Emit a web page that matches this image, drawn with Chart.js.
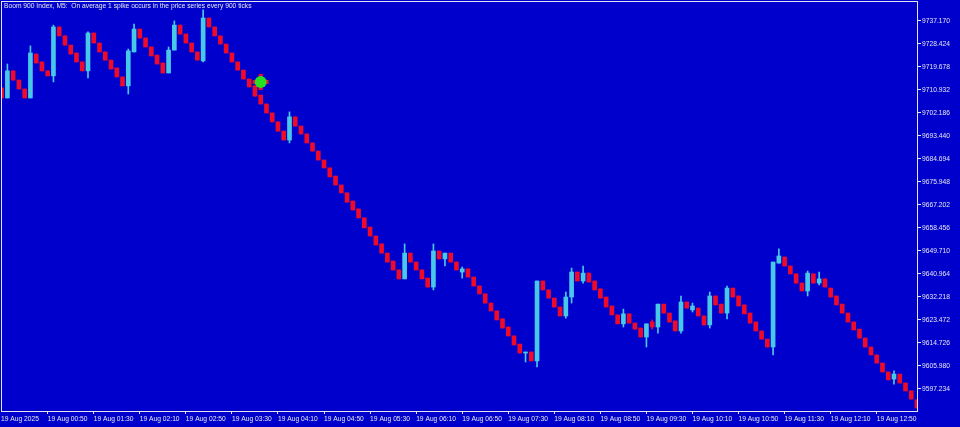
<!DOCTYPE html>
<html>
<head>
<meta charset="utf-8">
<script src="https://cdn.jsdelivr.net/npm/chart.js@4.4.1/dist/chart.umd.min.js"></script>
<style>
  html, body { margin: 0; padding: 0; background: #0000cd; }
  #wrap { width: 960px; height: 427px; }
</style>
</head>
<body>
<div id="wrap"><canvas id="chart" width="960" height="427"></canvas></div>
<script>
const titleText = 'Boom 900 Index, M5:  On average 1 spike occurs in the price series every 900 ticks';

// bar number of the first candle in the arrays (bar 0 = 19 Aug 00:00, M5)
const firstBar = 2;

const opens = [
  9711.7, 9707.9, 9718.2, 9714.7, 9711.3, 9707.9, 9724.6, 9721.6, 9718.2, 9716.3,
  9734.9, 9731.5, 9728.0, 9725.0, 9721.6, 9718.2, 9732.6, 9728.8, 9725.4, 9722.3,
  9719.3, 9715.9, 9712.5, 9725.4, 9734.1, 9730.7, 9727.3, 9724.2, 9721.2, 9717.4,
  9726.1, 9735.6, 9732.2, 9728.8, 9725.4, 9722.0, 9738.3, 9734.9, 9731.5, 9728.4,
  9725.0, 9721.6, 9718.5, 9715.1, 9712.5, 9709.0, 9705.6, 9702.2, 9698.8, 9695.3,
  9691.9, 9700.7, 9697.2, 9694.2, 9690.8, 9687.7, 9684.3, 9681.3, 9678.2, 9674.8,
  9671.8, 9668.7, 9665.7, 9662.3, 9658.8, 9655.4, 9652.4, 9648.9, 9645.9, 9642.5,
  9639.1, 9648.9, 9645.5, 9642.5, 9639.4, 9636.0, 9649.7, 9646.7, 9648.9, 9645.5,
  9641.7, 9642.9, 9639.8, 9636.4, 9633.4, 9629.9, 9626.9, 9623.9, 9620.8, 9617.4,
  9614.3, 9610.9, 9611.3, 9607.9, 9638.3, 9634.9, 9631.8, 9628.4, 9625.0, 9632.2,
  9641.7, 9638.3, 9641.3, 9638.3, 9635.3, 9632.2, 9628.8, 9625.4, 9622.0, 9625.8,
  9622.3, 9620.4, 9617.0, 9622.7, 9620.8, 9629.5, 9626.1, 9623.1, 9619.3, 9630.3,
  9627.3, 9628.0, 9625.0, 9621.6, 9632.6, 9629.5, 9626.1, 9635.6, 9632.6, 9629.2,
  9626.1, 9622.7, 9619.3, 9616.2, 9613.2, 9645.1, 9647.4, 9644.0, 9641.0, 9637.5,
  9634.5, 9641.0, 9637.5, 9639.1, 9635.6, 9632.6, 9629.5, 9626.1, 9622.7, 9620.0,
  9616.6, 9613.2, 9610.2, 9607.1, 9603.7, 9601.0, 9602.9, 9599.5, 9596.5, 9593.1
];
const highs = [
  9711.7, 9720.8, 9718.2, 9714.7, 9711.3, 9727.7, 9724.6, 9721.6, 9718.2, 9735.6,
  9734.9, 9731.5, 9728.0, 9725.0, 9721.6, 9733.0, 9732.6, 9728.8, 9725.4, 9722.3,
  9719.3, 9715.9, 9726.5, 9736.0, 9734.1, 9730.7, 9727.3, 9724.2, 9721.2, 9727.3,
  9737.2, 9735.6, 9732.2, 9728.8, 9725.4, 9741.4, 9738.3, 9734.9, 9731.5, 9728.4,
  9725.0, 9721.6, 9718.5, 9715.1, 9712.5, 9709.0, 9705.6, 9702.2, 9698.8, 9695.3,
  9702.6, 9700.7, 9697.2, 9694.2, 9690.8, 9687.7, 9684.3, 9681.3, 9678.2, 9674.8,
  9671.8, 9668.7, 9665.7, 9662.3, 9658.8, 9655.4, 9652.4, 9648.9, 9645.9, 9642.5,
  9652.4, 9648.9, 9645.5, 9642.5, 9639.4, 9652.4, 9649.7, 9648.9, 9648.9, 9645.5,
  9643.6, 9642.9, 9639.8, 9636.4, 9633.4, 9629.9, 9626.9, 9623.9, 9620.8, 9617.4,
  9614.3, 9611.3, 9611.3, 9638.3, 9638.3, 9634.9, 9631.8, 9628.4, 9634.1, 9643.2,
  9641.7, 9644.0, 9641.3, 9638.3, 9635.3, 9632.2, 9628.8, 9625.4, 9627.6, 9625.8,
  9622.3, 9620.4, 9622.0, 9623.5, 9629.5, 9629.5, 9626.1, 9623.1, 9632.6, 9630.3,
  9629.9, 9628.0, 9625.0, 9634.1, 9632.6, 9629.5, 9636.4, 9635.6, 9632.6, 9629.2,
  9626.1, 9622.7, 9619.3, 9616.2, 9645.5, 9650.5, 9647.4, 9644.0, 9641.0, 9637.5,
  9642.1, 9641.0, 9641.7, 9639.1, 9635.6, 9632.6, 9629.5, 9626.1, 9622.7, 9620.0,
  9616.6, 9613.2, 9610.2, 9607.1, 9603.7, 9604.1, 9602.9, 9599.5, 9596.5, 9593.1
];
const lows = [
  9707.9, 9707.9, 9714.7, 9711.3, 9707.9, 9707.9, 9721.2, 9718.2, 9716.3, 9714.0,
  9731.5, 9728.0, 9724.6, 9721.6, 9718.2, 9715.5, 9728.8, 9725.4, 9722.3, 9718.9,
  9715.9, 9712.5, 9709.4, 9725.4, 9730.7, 9727.3, 9723.9, 9720.8, 9717.4, 9717.4,
  9726.1, 9732.2, 9728.8, 9725.4, 9722.3, 9721.6, 9734.9, 9731.5, 9728.4, 9725.0,
  9721.6, 9718.5, 9715.1, 9712.1, 9708.6, 9705.6, 9702.2, 9698.8, 9695.3, 9691.9,
  9690.8, 9697.2, 9694.2, 9690.8, 9687.7, 9684.3, 9681.3, 9677.9, 9674.8, 9671.8,
  9668.3, 9665.3, 9662.3, 9658.5, 9655.4, 9652.0, 9648.9, 9645.5, 9642.5, 9639.1,
  9639.1, 9645.5, 9642.5, 9639.1, 9636.0, 9634.9, 9646.7, 9644.0, 9645.5, 9642.5,
  9639.4, 9639.8, 9636.4, 9633.4, 9629.9, 9626.9, 9623.5, 9620.4, 9617.4, 9614.0,
  9610.9, 9607.5, 9607.9, 9605.6, 9634.9, 9631.8, 9628.4, 9625.0, 9624.2, 9629.9,
  9638.3, 9637.5, 9637.9, 9634.9, 9631.8, 9628.4, 9625.4, 9622.0, 9620.8, 9622.3,
  9620.0, 9617.0, 9613.2, 9620.0, 9618.5, 9626.1, 9622.7, 9619.3, 9618.5, 9628.0,
  9626.5, 9625.0, 9621.6, 9620.4, 9629.2, 9626.1, 9623.9, 9632.2, 9628.8, 9625.8,
  9622.3, 9619.3, 9616.2, 9613.2, 9610.2, 9645.1, 9644.0, 9641.0, 9637.5, 9634.5,
  9632.6, 9637.5, 9636.8, 9636.0, 9632.2, 9629.2, 9626.1, 9622.7, 9619.7, 9616.6,
  9613.2, 9610.2, 9607.1, 9603.7, 9600.7, 9599.1, 9599.5, 9596.5, 9593.4, 9590.0
];
const closes = [
  9707.9, 9718.2, 9714.7, 9711.3, 9707.9, 9725.0, 9721.2, 9718.2, 9716.3, 9734.9,
  9731.5, 9728.0, 9724.6, 9721.6, 9718.2, 9732.6, 9728.8, 9725.4, 9722.3, 9718.9,
  9715.9, 9712.5, 9725.8, 9734.1, 9730.7, 9727.3, 9723.9, 9720.8, 9717.4, 9726.1,
  9735.6, 9732.2, 9728.8, 9725.4, 9722.3, 9738.3, 9734.9, 9731.5, 9728.4, 9725.0,
  9721.6, 9718.5, 9715.1, 9712.1, 9708.6, 9705.6, 9702.2, 9698.8, 9695.3, 9691.9,
  9700.7, 9697.2, 9694.2, 9690.8, 9687.7, 9684.3, 9681.3, 9677.9, 9674.8, 9671.8,
  9668.3, 9665.3, 9662.3, 9658.5, 9655.4, 9652.0, 9648.9, 9645.5, 9642.5, 9639.1,
  9648.9, 9645.5, 9642.5, 9639.1, 9636.0, 9649.7, 9646.7, 9648.9, 9645.5, 9642.5,
  9642.9, 9639.8, 9636.4, 9633.4, 9629.9, 9626.9, 9623.5, 9620.4, 9617.4, 9614.0,
  9610.9, 9611.3, 9607.9, 9638.3, 9634.9, 9631.8, 9628.4, 9625.0, 9632.2, 9641.7,
  9638.3, 9641.3, 9637.9, 9634.9, 9631.8, 9628.4, 9625.4, 9622.0, 9625.8, 9622.3,
  9620.0, 9617.0, 9622.0, 9620.8, 9629.5, 9626.1, 9622.7, 9619.3, 9630.3, 9628.0,
  9628.8, 9625.0, 9621.6, 9632.6, 9629.2, 9626.1, 9635.6, 9632.2, 9628.8, 9625.8,
  9622.3, 9619.3, 9616.2, 9613.2, 9645.5, 9647.8, 9644.0, 9641.0, 9637.5, 9634.5,
  9641.3, 9637.5, 9639.1, 9636.0, 9632.2, 9629.2, 9626.1, 9622.7, 9619.7, 9616.6,
  9613.2, 9610.2, 9607.1, 9603.7, 9600.7, 9602.9, 9599.5, 9596.5, 9593.4, 9590.0
];

// spike signal marker
const spikeBars = [47];
const spikePrices = [9714.0];

// axis ticks
const priceTicks = [9737.170, 9728.424, 9719.678, 9710.932, 9702.186, 9693.440, 9684.694, 9675.948,
  9667.202, 9658.456, 9649.710, 9640.964, 9632.218, 9623.472, 9614.726, 9605.980, 9597.234];
const timeTickBars = [10, 18, 26, 34, 42, 50, 58, 66, 74, 82, 90, 98, 106, 114, 122, 130, 138, 146, 154];
const timeTickLabels = ['19 Aug 00:50', '19 Aug 01:30', '19 Aug 02:10', '19 Aug 02:50', '19 Aug 03:30',
  '19 Aug 04:10', '19 Aug 04:50', '19 Aug 05:30', '19 Aug 06:10', '19 Aug 06:50', '19 Aug 07:30',
  '19 Aug 08:10', '19 Aug 08:50', '19 Aug 09:30', '19 Aug 10:10', '19 Aug 10:50', '19 Aug 11:30',
  '19 Aug 12:10', '19 Aug 12:50'];
const firstDateLabel = '19 Aug 2025';

const BG = '#0000cd';
const UP = '#48c8e8';
const DOWN = '#ee0a28';
const FG = '#e6e6ee';
const FONT = { family: '"Liberation Sans", Arial, sans-serif', size: 6.7 };

// visible window (bar numbers / prices)
const xMin = 1.89, xMax = 161.17;
const yMin = 9588.86, yMax = 9744.77;

const bodies = opens.map((o, i) => ({ x: firstBar + i, y: [o, closes[i]] }));
const wicks = lows.map((l, i) => ({ x: firstBar + i, y: [l, highs[i]] }));
const candleColor = ctx => closes[ctx.dataIndex] >= opens[ctx.dataIndex] ? UP : DOWN;
const spikes = spikeBars.map((b, i) => ({ x: b, y: spikePrices[i] }));

const framePlugin = {
  id: 'frame',
  beforeDraw(chart) {
    const c = chart.ctx;
    c.save();
    c.fillStyle = BG;
    c.fillRect(0, 0, chart.width, chart.height);
    c.restore();
  },
  afterDraw(chart) {
    const c = chart.ctx;
    const a = chart.chartArea;
    c.save();
    c.strokeStyle = FG;
    c.lineWidth = 1;
    c.strokeRect(a.left + 0.5, a.top + 0.5, a.right - a.left - 1, a.bottom - a.top);
    c.fillStyle = FG;
    c.font = `${FONT.size}px ${FONT.family}`;
    c.textBaseline = 'top';
    c.fillText(titleText, a.left + 3, a.top + 2);
    c.restore();
  }
};

new Chart(document.getElementById('chart'), {
  type: 'bar',
  data: {
    datasets: [
      {
        type: 'line',
        data: spikes,
        showLine: false,
        pointStyle: 'cross',
        pointRadius: 8,
        pointBorderWidth: 4,
        pointBorderColor: DOWN,
        order: -1
      },
      {
        type: 'line',
        data: spikes,
        showLine: false,
        pointRadius: 6,
        pointBorderWidth: 0,
        pointBackgroundColor: '#28e020',
        order: -2
      },
      {
        data: wicks,
        barThickness: 1,
        grouped: false,
        backgroundColor: candleColor,
        clip: 0,
        order: 2
      },
      {
        data: bodies,
        barThickness: 4,
        grouped: false,
        backgroundColor: candleColor,
        clip: 0,
        order: 1
      }
    ]
  },
  options: {
    responsive: false,
    animation: false,
    devicePixelRatio: 1,
    layout: { autoPadding: false, padding: { left: 1, top: 1, right: 0, bottom: 0 } },
    plugins: {
      legend: { display: false },
      tooltip: { enabled: false },
      title: { display: false }
    },
    scales: {
      x: {
        type: 'linear',
        offset: false,
        min: xMin,
        max: xMax,
        grid: {
          display: true,
          offset: false,
          drawOnChartArea: false,
          drawTicks: true,
          tickLength: 3,
          color: ctx => ctx.index === 0 ? 'rgba(0,0,0,0)' : FG
        },
        border: { display: false },
        ticks: {
          autoSkip: false,
          maxRotation: 0,
          align: 'start',
          padding: 1,
          color: FG,
          font: FONT,
          callback: (value, index) => index === 0 ? firstDateLabel : timeTickLabels[index - 1]
        },
        afterBuildTicks: scale => {
          scale.ticks = [{ value: xMin }].concat(timeTickBars.map(b => ({ value: b })));
        },
        afterFit: scale => {
          scale.height = 16;
          scale.paddingLeft = 0;
          scale.paddingRight = 0;
        }
      },
      y: {
        position: 'right',
        min: yMin,
        max: yMax,
        grid: {
          display: true,
          drawOnChartArea: false,
          drawTicks: true,
          tickLength: 3,
          color: FG
        },
        border: { display: false },
        ticks: {
          padding: 1,
          color: FG,
          font: FONT,
          callback: value => value.toFixed(3)
        },
        afterBuildTicks: scale => {
          scale.ticks = priceTicks.map(v => ({ value: v }));
        },
        afterFit: scale => {
          scale.width = 42;
          scale.paddingTop = 0;
          scale.paddingBottom = 0;
        }
      }
    }
  },
  plugins: [framePlugin]
});
</script>
</body>
</html>
